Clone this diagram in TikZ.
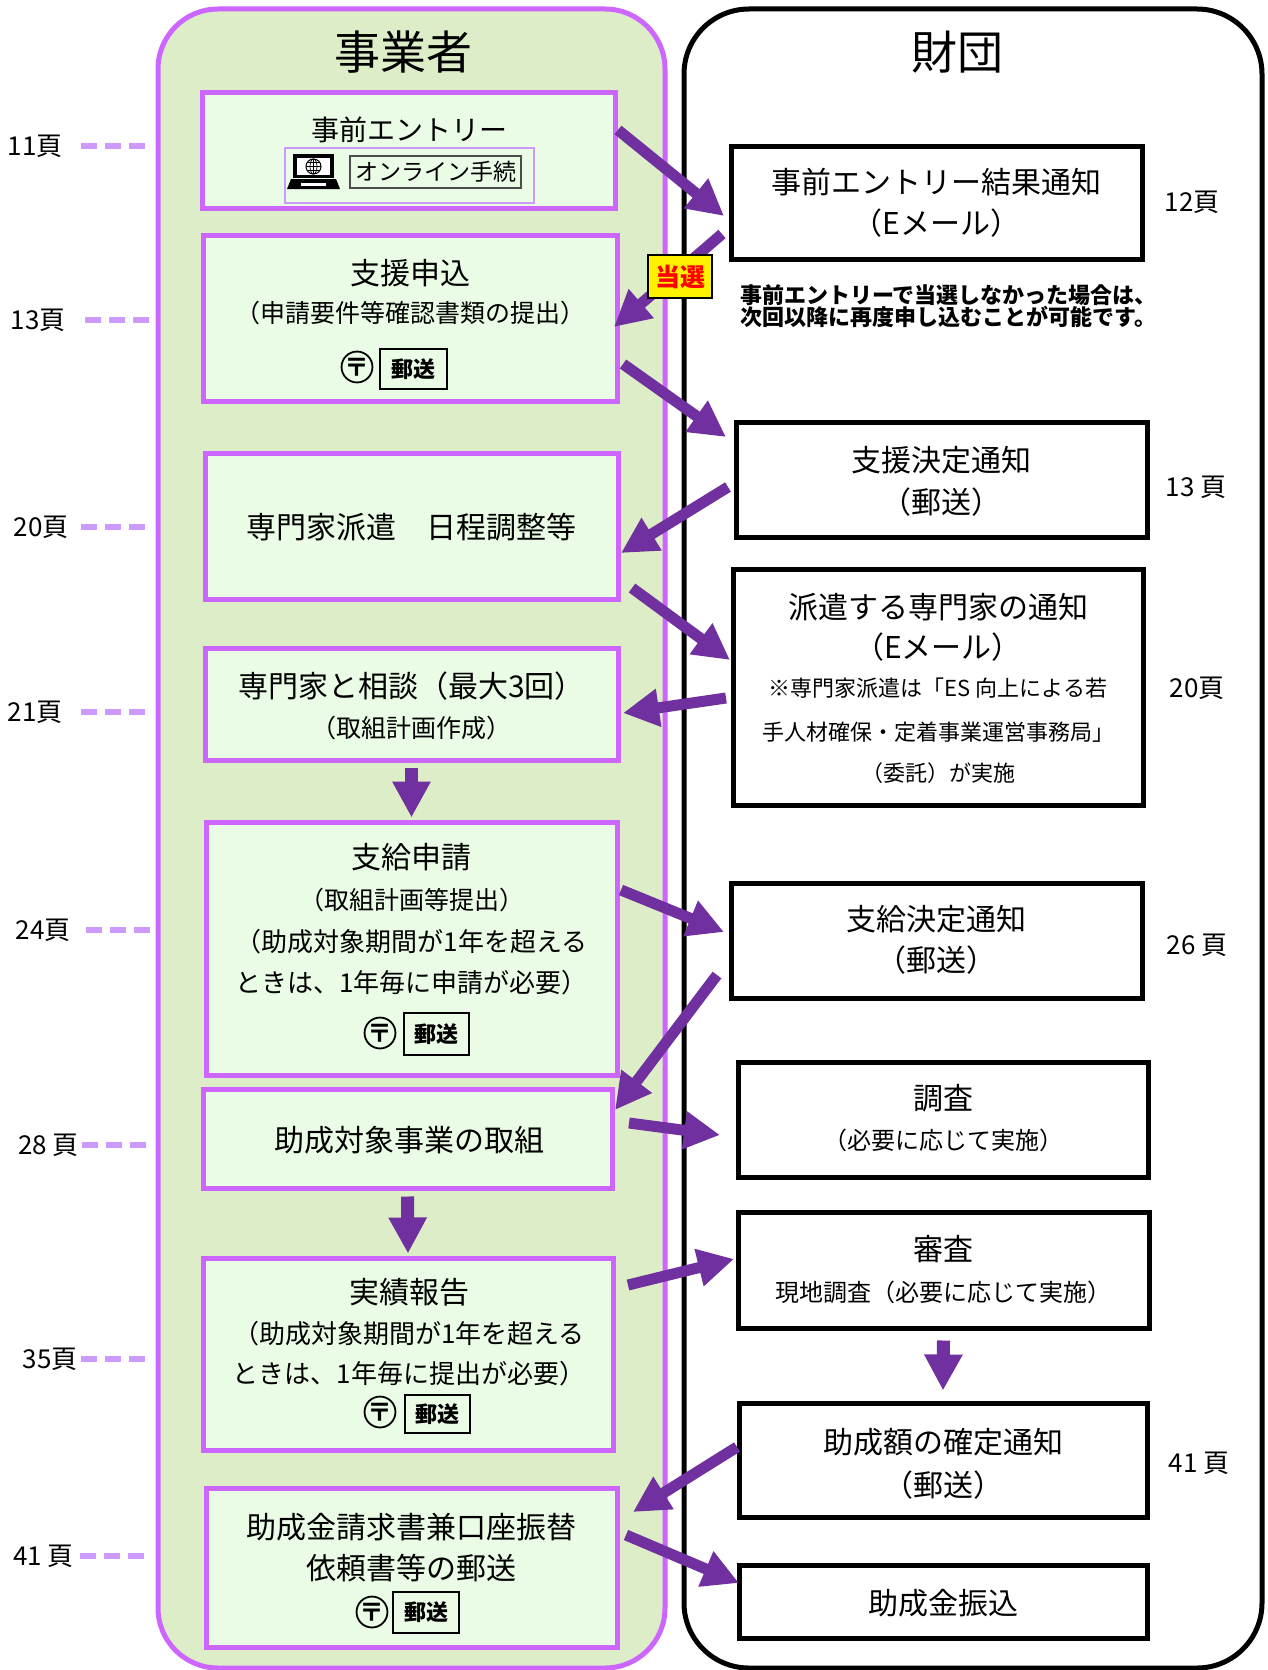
\documentclass[tikz,border=0pt]{standalone}
\usepackage{fontspec}
\setmainfont{Noto Sans CJK JP}
\usetikzlibrary{arrows.meta,calc}
\definecolor{pnlfill}{RGB}{221,237,199}
\definecolor{pnlline}{RGB}{204,102,255}
\definecolor{boxfill}{RGB}{235,252,230}
\definecolor{arrc}{RGB}{112,48,160}
\definecolor{dashc}{RGB}{204,153,255}
\newcommand\myfs[1]{\fontsize{#1pt}{#1pt}\selectfont}
\tikzset{
  panelL/.style={draw=pnlline, fill=pnlfill, line width=5pt, rounded corners=60pt, inner sep=0pt},
  panelR/.style={draw=black, fill=white, line width=5pt, rounded corners=65pt, inner sep=0pt},
  lbox/.style={draw=pnlline, fill=boxfill, line width=5pt, inner sep=0pt},
  rbox/.style={draw=black, fill=white, line width=5pt, inner sep=0pt},
  ttl/.style={font=\myfs{30}, inner sep=0pt},
  sub/.style={font=\myfs{25}, inner sep=0pt},
  sub2/.style={font=\myfs{26}, inner sep=0pt},
  note/.style={font=\myfs{22}, inner sep=0pt},
  flow/.style={draw=arrc, line width=11pt, -{Triangle[length=36pt,width=36pt]}},
  pg/.style={font=\myfs{26}, inner sep=0pt},
  pgdash/.style={draw=dashc, line width=6pt, dash pattern=on 16pt off 8pt},
  postmark/.style={circle, draw, line width=1.8pt, minimum size=30pt, inner sep=0pt, font=\bfseries\myfs{25}},
  mailbox/.style={draw, line width=1.3pt, inner sep=0pt, font=\bfseries\myfs{22}},
}
\begin{document}
\begin{tikzpicture}[x=1pt,y=-1pt]
\useasboundingbox (0,0) rectangle (1267,1670);
% panels
\node[panelL, minimum width=507pt, minimum height=1659pt] (PL) at (411.5,838.5) {};
\node[panelR, minimum width=578pt, minimum height=1659pt] (PR) at (973,838.5) {};
\node[font=\myfs{46}, inner sep=0pt] (HL) at (403,52) {事業者};
\node[font=\myfs{46}, inner sep=0pt] (HR) at (957,52) {財団};

% ---------- left boxes ----------
\node[lbox, minimum width=413pt, minimum height=116pt] (L1) at (408.5,150) {};
\node[font=\myfs{28}, inner sep=0pt] (L1a) at (409,130) {事前エントリー};
\node[draw=dashc, line width=1.8pt, fill=boxfill, minimum width=249pt, minimum height=55pt, inner sep=0pt] (OL) at (409.5,175.5) {};
\node[draw=black!70, line width=1.8pt, minimum width=171pt, minimum height=32pt, inner sep=0pt, font=\myfs{23}] (OLt) at (435.5,172) {オンライン手続};
% laptop icon
\fill (293,154) rectangle (334,178);
\fill[white] (297,158) rectangle (330,175);
\draw[line width=1pt] (313.5,166.5) circle (7.5pt);
\draw[line width=0.7pt] (313.5,166.5) ellipse (3.5pt and 7.5pt);
\draw[line width=0.7pt] (306,166.5) -- (321,166.5) (307,162.5) -- (320,162.5) (307,170.5) -- (320,170.5) (313.5,159) -- (313.5,174);
\fill (291,179) -- (336,179) -- (340,189) -- (287,189) -- cycle;
\fill[white] (301,183) rectangle (326,186);

\node[lbox, minimum width=414pt, minimum height=166pt] (L2) at (410,318) {};
\node[ttl] (L2a) at (410,273) {支援申込};
\node[sub] (L2b) at (410,313) {（申請要件等確認書類の提出）};
\node[postmark] (L2p) at (357,367) {〒};
\node[mailbox, minimum width=67pt, minimum height=40pt] (L2m) at (413.5,369) {郵送};

\node[lbox, minimum width=413pt, minimum height=146pt] (L3) at (411.5,526) {};
\node[ttl] (L3a) at (411.5,527) {専門家派遣　日程調整等};

\node[lbox, minimum width=413pt, minimum height=112pt] (L4) at (411.5,704) {};
\node[ttl] (L4a) at (411.5,686) {専門家と相談（最大3回）};
\node[sub] (L4b) at (411.5,728) {（取組計画作成）};

\node[lbox, minimum width=411pt, minimum height=253pt] (L5) at (411.5,948.5) {};
\node[ttl] (L5a) at (411.5,857) {支給申請};
\node[sub] (L5b) at (411.5,900) {（取組計画等提出）};
\node[sub2] (L5c) at (411.5,942) {（助成対象期間が1年を超える};
\node[sub2] (L5d) at (411.5,983) {ときは、1年毎に申請が必要）};
\node[postmark] (L5p) at (380,1033) {〒};
\node[mailbox, minimum width=65pt, minimum height=42pt] (L5m) at (436.5,1034) {郵送};

\node[lbox, minimum width=409pt, minimum height=99pt] (L6) at (407.5,1138.5) {};
\node[ttl] (L6a) at (409,1140) {助成対象事業の取組};

\node[lbox, minimum width=410pt, minimum height=192pt] (L7) at (408,1354) {};
\node[ttl] (L7a) at (409,1292) {実績報告};
\node[sub2] (L7b) at (409,1334) {（助成対象期間が1年を超える};
\node[sub2] (L7c) at (409,1374) {ときは、1年毎に提出が必要）};
\node[postmark] (L7p) at (380,1412) {〒};
\node[mailbox, minimum width=65pt, minimum height=38pt] (L7m) at (437.5,1414) {郵送};

\node[lbox, minimum width=411pt, minimum height=159pt] (L8) at (411.5,1567.5) {};
\node[ttl] (L8a) at (411.5,1527) {助成金請求書兼口座振替};
\node[ttl] (L8b) at (411.5,1568) {依頼書等の郵送};
\node[postmark] (L8p) at (372,1612) {〒};
\node[mailbox, minimum width=66pt, minimum height=41pt] (L8m) at (426,1612.5) {郵送};

% ---------- right boxes ----------
\node[rbox, minimum width=411pt, minimum height=113pt] (R1) at (936.5,202.5) {};
\node[ttl] (R1a) at (936.5,182) {事前エントリー結果通知};
\node[ttl] (R1b) at (936.5,223) {（Eメール）};
\node[font=\bfseries\fontsize{22pt}{20pt}\selectfont, align=left, anchor=west, inner sep=0pt] (NT) at (740,306) {事前エントリーで当選しなかった場合は、\\次回以降に再度申し込むことが可能です。};

\node[rbox, minimum width=411pt, minimum height=115pt] (R2) at (941.5,479.5) {};
\node[ttl] (R2a) at (941.5,460) {支援決定通知};
\node[ttl] (R2b) at (941.5,502) {（郵送）};

\node[rbox, minimum width=410pt, minimum height=236pt] (R3) at (938,687) {};
\node[ttl] (R3a) at (938,607) {派遣する専門家の通知};
\node[ttl] (R3b) at (938,647) {（Eメール）};
\node[note] (R3c) at (938,688) {※専門家派遣は「ES 向上による若};
\node[note] (R3d) at (938,732) {手人材確保・定着事業運営事務局」};
\node[note] (R3e) at (938,773) {（委託）が実施};

\node[rbox, minimum width=411pt, minimum height=115pt] (R4) at (936.5,940.5) {};
\node[ttl] (R4a) at (936.5,919) {支給決定通知};
\node[ttl] (R4b) at (936.5,960) {（郵送）};

\node[rbox, minimum width=410pt, minimum height=115pt] (R5) at (943,1119.5) {};
\node[ttl] (R5a) at (943,1098) {調査};
\node[font=\myfs{24}, inner sep=0pt] (R5b) at (943,1140) {（必要に応じて実施）};

\node[rbox, minimum width=411pt, minimum height=116pt] (R6) at (943.5,1270) {};
\node[ttl] (R6a) at (943.5,1249) {審査};
\node[font=\myfs{24}, inner sep=0pt] (R6b) at (943.5,1292) {現地調査（必要に応じて実施）};

\node[rbox, minimum width=408pt, minimum height=114pt] (R7) at (943,1460) {};
\node[ttl] (R7a) at (943,1442) {助成額の確定通知};
\node[ttl] (R7b) at (943,1485) {（郵送）};

\node[rbox, minimum width=408pt, minimum height=73pt] (R8) at (943,1601.5) {};
\node[ttl] (R8a) at (943,1603) {助成金振込};

% ---------- page labels ----------
\node[pg, anchor=east] (p11) at (63,146) {11頁};
\node[pg, anchor=east] (p13) at (66,320) {13頁};
\node[pg, anchor=east] (p20) at (69,527) {20頁};
\node[pg, anchor=east] (p21) at (63,712) {21頁};
\node[pg, anchor=east] (p24) at (71,930) {24頁};
\node[pg, anchor=east] (p28) at (79,1145) {28 頁};
\node[pg, anchor=east] (p35) at (78,1359) {35頁};
\node[pg, anchor=east] (p41) at (74,1556) {41 頁};
\coordinate (d11a) at (81,146);  \coordinate (d11b) at (147,146);
\coordinate (d13a) at (85,320);  \coordinate (d13b) at (151,320);
\coordinate (d20a) at (81,527);  \coordinate (d20b) at (147,527);
\coordinate (d21a) at (81,712);  \coordinate (d21b) at (147,712);
\coordinate (d24a) at (86,930);  \coordinate (d24b) at (152,930);
\coordinate (d28a) at (82,1145); \coordinate (d28b) at (148,1145);
\coordinate (d35a) at (81,1359); \coordinate (d35b) at (147,1359);
\coordinate (d41a) at (80,1556); \coordinate (d41b) at (146,1556);
\foreach \p in {11,13,20,21,24,28,35,41} \draw[pgdash] (d\p a) -- (d\p b);

\node[pg] (q12) at (1192,202) {12頁};
\node[pg] (q13) at (1196,487) {13 頁};
\node[pg] (q20) at (1197,688) {20頁};
\node[pg] (q26) at (1197,945) {26 頁};
\node[pg] (q41) at (1199,1463) {41 頁};

% ---------- arrows ----------
\coordinate (a1s) at (618,130);  \coordinate (a1e) at (724,216);
\coordinate (a2s) at (722,234);  \coordinate (a2e) at (614,327);
\coordinate (a3s) at (623,364);  \coordinate (a3e) at (726,437);
\coordinate (a4s) at (728,487);  \coordinate (a4e) at (621,553);
\coordinate (a5s) at (632,588);  \coordinate (a5e) at (730,660);
\coordinate (a6s) at (726,698);  \coordinate (a6e) at (623,713);
\coordinate (a7s) at (621,890);  \coordinate (a7e) at (724,932);
\coordinate (a8s) at (717,975);  \coordinate (a8e) at (615,1110);
\coordinate (a9s) at (629,1123); \coordinate (a9e) at (720,1135);
\coordinate (a10s) at (628,1285); \coordinate (a10e) at (734,1259);
\coordinate (a11s) at (737,1447); \coordinate (a11e) at (633,1512);
\coordinate (a12s) at (626,1535); \coordinate (a12e) at (739,1583);
\foreach \i in {1,...,12} \draw[flow] (a\i s) -- (a\i e);
\draw[flow, line width=13pt] (L4.south) ++(0,5) coordinate (b1s) -- ($(L5.north)+(0,-2)$) coordinate (b1e);
\draw[flow, line width=13pt] (L6.south) ++(0,6) coordinate (b2s) -- ($(L7.north)+(0,-2)$) coordinate (b2e);
\draw[flow, line width=13pt] (R6.south) ++(0,10) coordinate (b3s) -- ($(R7.north)+(0,-10)$) coordinate (b3e);

% 当選 label
\node[draw=black, line width=2pt, fill=yellow, text=red, font=\bfseries\myfs{25}, minimum width=64pt, minimum height=43pt, inner sep=0pt] (WIN) at (680,276.5) {当選};
\end{tikzpicture}
\end{document}
